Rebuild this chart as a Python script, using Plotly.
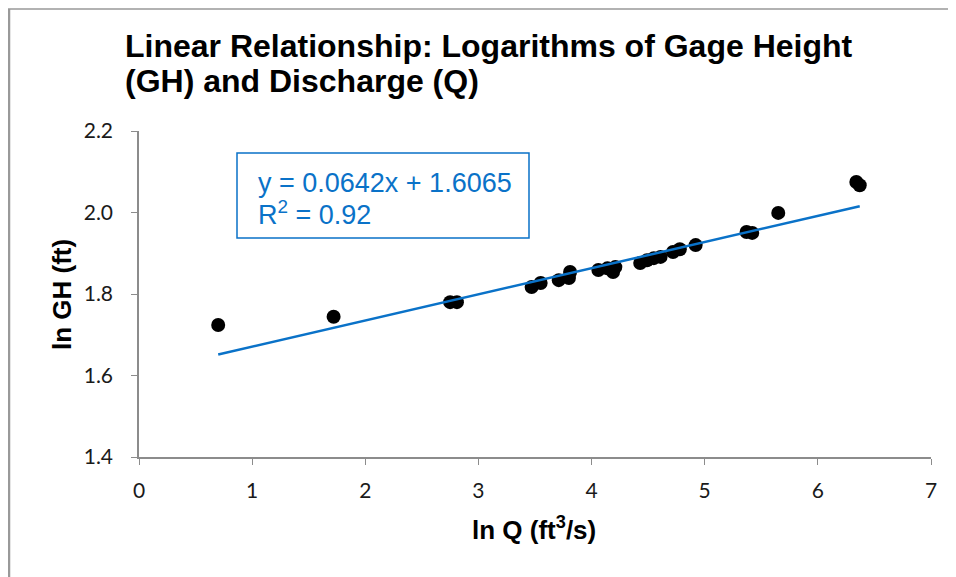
import plotly.graph_objects as go

ln_q = [0.70, 1.72, 2.75, 2.81, 3.47, 3.55, 3.71, 3.80, 3.81, 4.06, 4.14, 4.19, 4.21,
        4.43, 4.49, 4.55, 4.61, 4.72, 4.78, 4.92, 5.37, 5.42, 5.65, 6.34, 6.37]
ln_gh = [1.724, 1.744, 1.780, 1.780, 1.817, 1.827, 1.834, 1.839, 1.854, 1.859, 1.863, 1.854, 1.866,
         1.876, 1.883, 1.888, 1.891, 1.903, 1.910, 1.920, 1.952, 1.950, 1.999, 2.075, 2.067]

slope = 0.0642
intercept = 1.6065
r_squared = 0.92

x_ticks = [0, 1, 2, 3, 4, 5, 6, 7]
y_ticks = [1.4, 1.6, 1.8, 2.0, 2.2]

trend_x = [min(ln_q), max(ln_q)]
trend_y = [slope * v + intercept for v in trend_x]

# page body has an 8px margin; positions below are in reference-pixel terms
OFF = 8
W, H = 956 - OFF, 577 - OFF
L, R, T, B = 139 - OFF, 25, 131 - OFF, 120
pw, ph = W - L - R, H - T - B


def px(xp):
    return (xp - OFF - L) / pw


def py(yp):
    return (H - B - (yp - OFF)) / ph


blue = "#0A72C8"
fig = go.Figure()
fig.add_trace(go.Scatter(x=ln_q, y=ln_gh, mode="markers",
                         marker=dict(color="black", size=14), showlegend=False))
fig.add_trace(go.Scatter(x=trend_x, y=trend_y, mode="lines",
                         line=dict(color=blue, width=2.5), showlegend=False))

tick_font = dict(family="Lato, Liberation Sans", size=21, color="#1a1a1a")
title_font = "Liberation Sans, Arial"
fig.update_layout(
    width=W, height=H,
    margin=dict(l=L, r=R, t=T, b=B),
    plot_bgcolor="white", paper_bgcolor="white",
    showlegend=False,
    xaxis=dict(range=[0, 7], tickvals=x_ticks, showgrid=False, zeroline=False,
               showline=True, linecolor="#8c8c8c", linewidth=1.5,
               ticks="outside", ticklen=6, tickcolor="#8c8c8c", ticklabelstandoff=8,
               tickfont=tick_font, fixedrange=True),
    yaxis=dict(range=[1.4, 2.2], tickvals=y_ticks, tickformat=".1f", showgrid=False,
               zeroline=False, showline=True, linecolor="#8c8c8c", linewidth=1.5,
               ticks="outside", ticklen=6, tickcolor="#8c8c8c", ticklabelstandoff=14,
               tickfont=tick_font, fixedrange=True),
    shapes=[
        dict(type="line", xref="paper", yref="paper", x0=px(9), x1=px(9),
             y0=py(9), y1=py(590), line=dict(color="#999999", width=2.5)),
        dict(type="line", xref="paper", yref="paper", x0=px(8), x1=px(970),
             y0=py(9), y1=py(9), line=dict(color="#999999", width=1.5)),
        dict(type="rect", xref="paper", yref="paper", x0=px(237), x1=px(529),
             y0=py(238), y1=py(153), line=dict(color=blue, width=1.5)),
    ],
    annotations=[
        dict(text="<b>Linear Relationship: Logarithms of Gage Height</b>", xref="paper",
             yref="paper", x=px(123), y=py(46), xanchor="left", yanchor="middle",
             showarrow=False, font=dict(family=title_font, size=32, color="black")),
        dict(text="<b>(GH) and Discharge (Q)</b>", xref="paper",
             yref="paper", x=px(123), y=py(81), xanchor="left", yanchor="middle",
             showarrow=False, font=dict(family=title_font, size=32, color="black")),
        dict(text="<b>ln GH (ft)</b>", xref="paper", yref="paper", x=px(62), y=py(295),
             textangle=-90, showarrow=False, xanchor="center", yanchor="middle",
             font=dict(family=title_font, size=26, color="black")),
        dict(text="<b>ln Q (ft<sup>3</sup>/s)</b>", xref="paper", yref="paper", x=px(534),
             y=py(528), showarrow=False, xanchor="center", yanchor="middle",
             font=dict(family=title_font, size=26, color="black")),
        dict(text=f"y = {slope}x + {intercept}", xref="paper", yref="paper",
             x=px(256), y=py(183), xanchor="left", yanchor="middle", showarrow=False,
             font=dict(family=title_font, size=27, color=blue)),
        dict(text=f"R<sup>2</sup> = {r_squared}", xref="paper", yref="paper",
             x=px(256), y=py(213), xanchor="left", yanchor="middle", showarrow=False,
             font=dict(family=title_font, size=27, color=blue)),
    ],
)

fig.write_html("out.html")
